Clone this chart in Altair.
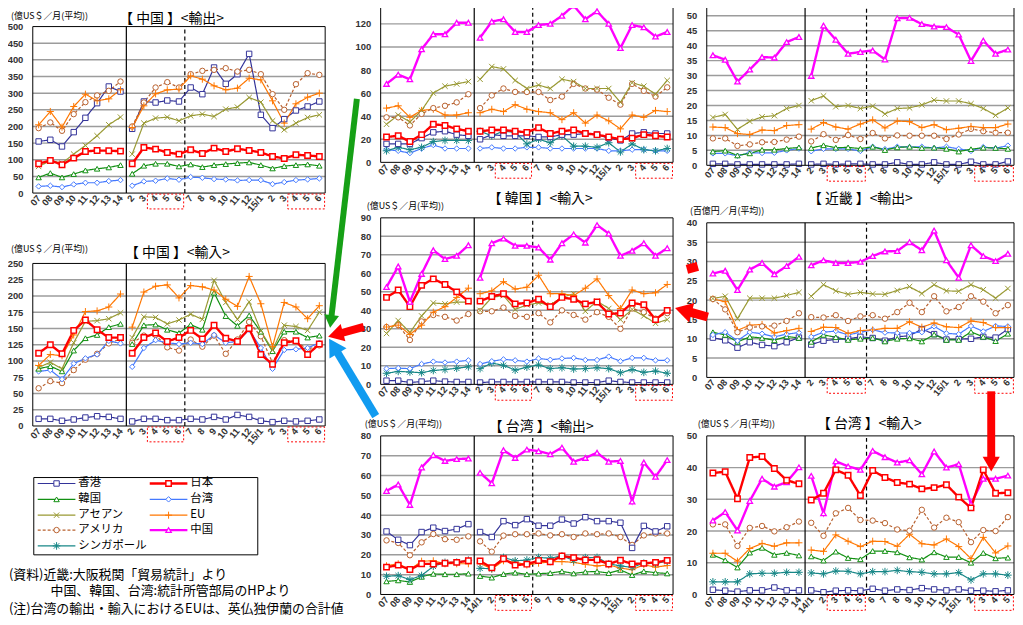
import math
import pandas as pd
import altair as alt

JP = "Noto Sans CJK JP"
NUM = "Liberation Sans"

SERIES = ["香港", "日本", "韓国", "台湾", "アセアン", "EU", "アメリカ", "中国", "シンガポール"]
COLORS = ["#333399", "#ff0000", "#129012", "#4479ff", "#999933", "#ff7700", "#b8602e", "#ff00ff", "#178787"]
SHAPES = ["square", "square", "triangle-up", "diamond",
          "M-1,-1L1,1M-1,1L1,-1",
          "M-1.3,0L1.3,0M0,-1.3L0,1.3",
          "circle", "triangle-up",
          "M-1,-1L1,1M-1,1L1,-1M0,-1.4L0,1.4M-1.4,0L1.4,0"]
DASHES = [[1, 0], [1, 0], [1, 0], [1, 0], [1, 0], [1, 0], [3, 2], [1, 0], [1, 0]]
LINE_W = {"日本": 2.4, "中国": 2.4}
PT_W = {"日本": 1.5, "中国": 1.3}

LABELS_A = ["07", "08", "09", "10", "11", "12", "13", "14", "2", "3", "4", "5", "6",
            "7", "8", "9", "10", "11", "12", "15/1", "2", "3", "4", "5", "6"]
LABELS_B = ["07", "08", "09", "10", "11", "12", "13", "14", "14/1", "2", "3", "4", "5",
            "6", "7", "8", "9", "10", "11", "12", "15/1", "2", "3", "4", "5"]

# 中国 輸出 (億US$/月)
cn_exp = {
    "香港": [155, 160, 140, 183, 226, 270, 320, 305, 193, 275, 272, 278, 275, 317, 297, 377, 328, 357, 418, 235, 195, 222, 248, 260, 275],
    "アメリカ": [195, 212, 187, 237, 273, 293, 307, 335, 200, 272, 317, 333, 317, 357, 367, 370, 375, 365, 370, 357, 297, 250, 327, 360, 355],
    "EU": [205, 245, 198, 260, 297, 277, 283, 310, 197, 262, 298, 310, 312, 352, 342, 322, 310, 315, 345, 340, 277, 210, 268, 288, 300],
    "アセアン": [80, 97, 90, 117, 143, 172, 205, 228, 117, 210, 225, 228, 217, 232, 237, 230, 252, 258, 287, 273, 217, 190, 210, 227, 235],
    "韓国": [47, 60, 47, 57, 68, 73, 77, 84, 58, 82, 88, 88, 80, 86, 78, 84, 87, 90, 92, 84, 74, 81, 84, 86, 82],
    "台湾": [20, 22, 18, 26, 31, 31, 36, 39, 22, 35, 37, 44, 40, 48, 46, 42, 41, 38, 39, 39, 27, 33, 39, 41, 44],
    "日本": [88, 98, 85, 105, 125, 128, 127, 126, 88, 137, 132, 122, 117, 130, 119, 135, 125, 133, 128, 122, 110, 104, 115, 113, 110],
}
# 中国 輸入
cn_imp = {
    "香港": [11, 11, 8, 10, 13, 15, 14, 11, 7, 11, 11, 9, 9, 11, 10, 14, 10, 17, 14, 8, 6, 8, 7, 8, 10],
    "アメリカ": [58, 69, 66, 86, 102, 111, 127, 134, 128, 139, 140, 121, 116, 133, 122, 139, 111, 133, 160, 138, 97, 132, 130, 118, 124],
    "台湾": [84, 86, 72, 96, 104, 110, 131, 127, 91, 120, 132, 128, 126, 128, 126, 140, 128, 130, 148, 120, 88, 117, 118, 120, 128],
    "韓国": [88, 92, 84, 116, 135, 140, 152, 157, 126, 155, 156, 148, 143, 156, 148, 205, 169, 154, 170, 145, 115, 145, 145, 136, 139],
    "アセアン": [90, 98, 88, 128, 161, 162, 165, 174, 136, 168, 167, 157, 163, 172, 164, 224, 190, 164, 191, 146, 117, 155, 153, 147, 175],
    "EU": [93, 110, 108, 140, 176, 177, 183, 203, 152, 206, 215, 217, 197, 216, 214, 209, 195, 184, 230, 188, 122, 190, 183, 165, 185],
    "日本": [112, 125, 111, 147, 163, 148, 136, 136, 112, 136, 143, 130, 136, 147, 134, 155, 135, 130, 150, 110, 95, 128, 131, 110, 126],
}
# 韓国 輸出
kr_exp = {
    "台湾": [11, 10, 8, 12, 15, 12, 12, 12, 12, 13, 12, 12, 13, 13, 12, 12, 12, 12, 12, 10, 10, 11, 11, 10, 10],
    "シンガポール": [10, 13, 11, 13, 18, 19, 19, 19, 27, 23, 27, 26, 16, 20, 17, 23, 14, 14, 13, 17, 9, 16, 11, 10, 12],
    "香港": [16, 16, 16, 21, 26, 27, 24, 23, 20, 24, 23, 23, 23, 22, 22, 24, 24, 25, 24, 21, 19, 25, 26, 25, 25],
    "EU": [47, 49, 39, 45, 46, 41, 41, 43, 43, 46, 44, 50, 46, 44, 43, 37, 43, 34, 41, 36, 29, 41, 39, 45, 44],
    "アメリカ": [39, 39, 32, 42, 47, 49, 52, 59, 47, 58, 64, 61, 61, 61, 54, 57, 68, 64, 63, 56, 50, 68, 62, 57, 65],
    "アセアン": [33, 41, 35, 45, 60, 66, 68, 70, 72, 83, 81, 71, 64, 67, 64, 72, 70, 64, 64, 64, 52, 69, 66, 59, 71],
    "日本": [22, 23, 18, 24, 33, 32, 29, 27, 27, 28, 28, 27, 26, 30, 25, 27, 28, 25, 24, 22, 20, 21, 24, 23, 22],
    "中国": [68, 76, 72, 98, 111, 111, 121, 121, 108, 122, 124, 113, 113, 119, 120, 127, 136, 124, 131, 120, 99, 119, 117, 109, 113],
}
# 韓国 輸入
kr_imp = {
    "香港": [2, 2, 1, 1.5, 2, 1.5, 1.3, 1.3, 1, 1.3, 1.3, 1.3, 1.3, 1.3, 1.3, 1.3, 1, 1, 1, 2, 1.3, 1, 1, 1, 1],
    "シンガポール": [6, 7, 6.7, 6.3, 7.5, 8, 8.7, 9.5, 8.5, 11.5, 10.3, 7.7, 9.3, 10.5, 8.5, 9, 8.3, 8.5, 9, 8.5, 6.3, 8, 6.5, 7.2, 6],
    "台湾": [8.5, 8.8, 8.5, 11, 12.3, 11.8, 12.3, 13, 11, 12.5, 13.5, 13, 12.3, 14, 13.3, 14, 14.3, 13.2, 13.2, 15, 12.5, 14.3, 14.3, 13, 13],
    "アメリカ": [31, 32, 24, 34, 37.5, 36.5, 34.5, 38, 39.5, 39.5, 41.5, 37, 36.5, 38.5, 33.5, 40, 37.5, 35, 39, 36.5, 30, 41, 39, 35.5, 38.5],
    "アセアン": [27.5, 34.5, 28, 37, 44, 43.5, 44.5, 44.5, 40, 47, 48, 40.5, 43, 44, 43, 47, 49, 39.5, 45, 41, 35, 40.5, 37, 33, 35],
    "EU": [31, 32, 27, 32, 39, 42, 47, 52, 49, 50.5, 55.5, 51.5, 52.5, 59, 49, 49, 48, 52, 57, 48, 41, 51, 49, 49.5, 54],
    "日本": [47, 51, 42, 53.5, 57, 54, 50, 45, 45, 47.5, 49, 43.5, 44, 46, 42, 47, 46, 43.5, 44.5, 38, 38.5, 44, 43, 35, 40],
    "中国": [52.6, 63.7, 44.6, 59.7, 72.5, 67.7, 69.5, 75.2, 57.6, 76.3, 78.8, 74.9, 74.9, 74, 67.4, 76.3, 81.1, 76.6, 86.1, 81.5, 69.5, 72.2, 76.3, 69.5, 73.6],
}
# 近畿 輸入 (百億円/月)
kk_imp = {
    "香港": [0.5, 0.5, 0.3, 0.3, 0.3, 0.3, 0.3, 0.5, 0.3, 0.5, 0.3, 0.5, 0.5, 0.3, 0.3, 1, 0.3, 0.3, 1, 0.3, 0.3, 1.2, 0.3, 0.3, 1.3],
    "台湾": [4, 4, 3.2, 4.2, 4.1, 4.2, 5, 5.6, 4.7, 5.5, 5.5, 5.5, 4.8, 6.2, 5.4, 6.2, 6.1, 6.2, 5.8, 6.2, 5.5, 4.8, 6.1, 5.7, 6.6],
    "韓国": [4.6, 4.9, 3.3, 4, 5.2, 5.2, 5.6, 6, 5.8, 6.7, 5.9, 6, 5.6, 6.2, 5.1, 6, 6.2, 5.8, 5.9, 5.5, 4.6, 5.4, 5.9, 5.8, 5.5],
    "アメリカ": [9, 9, 6.5, 7, 7.7, 7.8, 8.6, 9.6, 8, 10.4, 8.5, 10.1, 8.8, 10.8, 9, 10, 9.9, 9.9, 9.9, 8.8, 10.3, 12.2, 11.4, 10.9, 10.9],
    "EU": [12.8, 12.6, 10.6, 10.3, 11.8, 11.6, 13.3, 13.6, 12.1, 14.3, 12.8, 12.1, 13.8, 15.2, 12.5, 14.8, 14.6, 12.6, 13.6, 11.9, 12.4, 13, 12.6, 12.6, 13.8],
    "アセアン": [16, 17, 12, 14.7, 16.2, 16.6, 19, 20, 21.6, 23.2, 19.6, 20, 19, 19.8, 17.2, 19, 19.2, 20.2, 21.8, 21.5, 21.5, 20.6, 19, 16.7, 19.2],
    "中国": [36.8, 35.3, 28, 32, 36.2, 36, 41.2, 42.9, 29.9, 46.7, 42, 37.3, 37.9, 38.4, 35.4, 49.2, 49.3, 47.2, 46.4, 46.2, 43.7, 34.9, 41.7, 37.3, 38.7],
}
# 近畿 輸出
kk_exp = {
    "香港": [10.3, 9.6, 7.7, 9.1, 8.4, 8.1, 9.1, 10.3, 8.5, 9.5, 9.8, 10, 10.5, 10.2, 9.5, 10.5, 10.8, 12.5, 11.2, 9.8, 9.9, 10, 10.5, 10.3, 12.5],
    "韓国": [11.7, 11, 9.2, 10.5, 10.2, 9.6, 10.6, 10.2, 9.2, 11, 10.4, 9.7, 10, 10.2, 9.3, 10, 10.1, 9.3, 11.1, 9.7, 9.7, 11.8, 10.5, 9.4, 11.3],
    "台湾": [11, 11.7, 9.5, 11.7, 11.3, 10.5, 11.2, 11.6, 10.5, 11.7, 12, 11, 11.7, 12.3, 11.6, 11.5, 11.5, 11.7, 13.2, 11.4, 11.2, 13.3, 11.9, 13.3, 13.2],
    "EU": [20.3, 19.6, 12.2, 13.5, 13.7, 11.5, 12.1, 12.7, 11.9, 13, 12.9, 11.4, 12.1, 12.3, 12.7, 12.7, 14.4, 13, 14.1, 13.1, 12.9, 14.6, 14.2, 12.9, 12.9],
    "アメリカ": [20.3, 17.6, 11.7, 12.9, 13.2, 13.4, 14.6, 16.6, 15.6, 15.5, 16.1, 14.6, 15.8, 16.1, 15.2, 16.9, 19.3, 16.9, 21, 17.1, 18.2, 21, 19.6, 16.6, 18.7],
    "アセアン": [20.4, 21, 15.2, 20.5, 20.5, 20.5, 21.2, 22, 21, 24, 22.4, 21.5, 22, 21.6, 21.5, 22.5, 23.5, 21.7, 24, 22.4, 22.3, 24, 22.7, 20.5, 23],
    "中国": [26.9, 27.6, 22.6, 27.9, 29.6, 26.7, 28.8, 31.2, 29, 30.3, 29.6, 29.6, 29.9, 31.4, 32.6, 32.7, 35, 32.9, 38, 30.3, 25.8, 34.2, 31.4, 30.1, 32],
}
# 台湾 輸出
tw_exp = {
    "韓国": [6.6, 7.1, 6.3, 8.9, 10.4, 10.2, 10.2, 10.5, 9.3, 8.5, 10.3, 11, 10.2, 10.5, 10.8, 11.7, 10.6, 11.4, 11.6, 10.8, 12.4, 9.8, 11.7, 11, 10.6],
    "EU": [14.5, 15.5, 12.5, 16.8, 17, 15.5, 15.5, 15.5, 15.8, 12.8, 17, 16.3, 14.9, 15.8, 16.5, 16.6, 16.2, 15.2, 14.4, 14.9, 13.3, 12.5, 15, 13.8, 14.6],
    "シンガポール": [9.2, 9.5, 7.5, 9.6, 14.2, 16.2, 16.3, 17.3, 13.2, 13, 18.7, 17, 17.4, 18.7, 18.3, 19.5, 17.2, 18.6, 18.7, 15.5, 14.4, 13.7, 15.8, 15.6, 16.8],
    "アメリカ": [27.3, 26, 19.8, 26.3, 30.5, 27.9, 27.6, 29.3, 26.8, 21.6, 29.7, 30.4, 30.4, 30.8, 29.8, 30.4, 29, 30.8, 30.4, 30.8, 29, 25, 29.8, 30.8, 30.8],
    "香港": [31.8, 27.6, 24.9, 31.5, 33.7, 32, 33, 35.5, 31.5, 29, 37, 35, 38, 34.7, 34.7, 37.8, 35.8, 39, 37, 37, 36.2, 23.5, 34.6, 31.8, 34.4],
    "日本": [13.8, 14.8, 12.6, 15.5, 15.4, 15.8, 16.2, 17, 16.9, 13.5, 18, 14.8, 15.3, 17.1, 16.5, 19.4, 18.6, 17.4, 17.5, 15.4, 17.3, 15.4, 15.7, 16.2, 17.2],
    "中国": [52.2, 55.5, 45.2, 64.1, 70.3, 67.4, 68.3, 68.6, 61.4, 56.1, 72.8, 68.9, 73.1, 72.3, 70.8, 74.1, 67, 68.9, 71.5, 67, 67.4, 46.9, 66.6, 59.4, 67.8],
}
# 台湾 輸入
tw_imp = {
    "香港": [1.5, 1.2, 0.9, 1.3, 1.3, 2.2, 1.3, 1.3, 1.3, 0.7, 1.2, 1.3, 1.2, 1.8, 1.2, 1.6, 1.4, 2, 1.6, 1.3, 1.6, 1.2, 1.2, 1, 1.3],
    "シンガポール": [4, 4, 4, 6.5, 6.7, 6.7, 7, 7, 6.8, 6.5, 7.4, 7.3, 6.5, 7.2, 7.2, 7.6, 7.2, 7, 6.5, 6.5, 6.9, 4.6, 6.5, 6.5, 6.1],
    "韓国": [12.5, 10.8, 8.5, 13.2, 14.7, 12.5, 13.1, 12.3, 12, 10.7, 13.5, 11.5, 11.1, 13.7, 13.7, 13.3, 11.7, 11, 13.3, 11.8, 11.8, 10, 13.1, 11.4, 11.6],
    "EU": [13, 13, 10.5, 14.5, 16.1, 15.2, 16.3, 16.3, 14, 13.6, 18.8, 16.8, 15.1, 16.8, 16.7, 15.2, 19, 16, 15.6, 17.5, 15.1, 11.3, 18, 13.1, 15.3],
    "アメリカ": [22.1, 22.1, 15.3, 21, 21.6, 19.9, 21.2, 23, 22.6, 18.5, 25.6, 27.3, 23.5, 23.3, 22.5, 20.5, 20.1, 26.7, 21.1, 24.2, 22.8, 16.5, 20.3, 20, 24.4],
    "中国": [23.3, 26, 20.2, 29.5, 36.5, 34, 35.4, 40.1, 37.4, 25.6, 42, 40.4, 39.3, 45.3, 43.3, 41.6, 42.3, 37.9, 45.1, 40, 41.1, 28.5, 36.5, 36.5, 37.5],
    "日本": [38.3, 38.7, 30.2, 43.2, 43.5, 39.7, 36, 34.9, 29.8, 31.9, 39.3, 37.6, 31.2, 39.1, 36.9, 35.3, 34.8, 33.3, 33.7, 34.6, 30.7, 27.3, 39.3, 31.9, 32.1],
}

LEGEND_LEFT = ["香港", "韓国", "アセアン", "アメリカ", "シンガポール"]
LEGEND_RIGHT = ["日本", "台湾", "EU", "中国"]
NOTES = ["(資料)近畿:大阪税関「貿易統計」より",
         "中国、韓国、台湾:統計所管部局のHPより",
         "(注)台湾の輸出・輸入におけるEUは、英仏独伊蘭の合計値"]
UNIT_USD = "(億US＄／月(平均))"
UNIT_JPY = "(百億円／月(平均))"

COLOR = alt.Color("series:N", scale=alt.Scale(domain=SERIES, range=COLORS), legend=None)
DASH = alt.StrokeDash("series:N", scale=alt.Scale(domain=SERIES, range=DASHES), legend=None)
SHAPE = alt.Shape("series:N", scale=alt.Scale(domain=SERIES, range=SHAPES), legend=None)


def one():
    return pd.DataFrame({"k": [0]})


def label(t, x, y, size, align="left", color="black"):
    return alt.Chart(pd.DataFrame({"t": [t]})).mark_text(
        font=JP, fontSize=size, align=align, baseline="middle", color=color
    ).encode(text="t:N", x=alt.value(x), y=alt.value(y))


def arrow(x0, y0, x1, y1, color, w, s):
    dx, dy = x1 - x0, y1 - y0
    L = math.hypot(dx, dy)
    ux, uy = dx / L, dy / L
    h = 0.433 * math.sqrt(s)
    cx, cy = x1 - h * ux, y1 - h * uy
    ex, ey = x1 - 1.7 * h * ux, y1 - 1.7 * h * uy
    ang = math.degrees(math.atan2(ux, -uy)) % 360
    shaft = alt.Chart(one()).mark_rule(color=color, strokeWidth=w, strokeCap="butt").encode(
        x=alt.value(x0), y=alt.value(y0), x2=alt.value(ex), y2=alt.value(ey))
    head = alt.Chart(one()).mark_point(shape="triangle-up", filled=True, color=color, size=s,
                                       opacity=1, angle=ang, strokeWidth=0).encode(
        x=alt.value(cx), y=alt.value(cy))
    return [shaft, head]


def panel(data, ymax, step, labels, vw, pw, vh, top, title=None, unit=None,
          title_xy=(0, 0), unit_xy=(0, 0), extras=()):
    ph = vh - top
    xs = alt.Scale(domain=[-0.5, -0.5 + 25.0 * vw / pw], nice=False, zero=False)
    ys = alt.Scale(domain=[0, ymax * vh / ph], nice=False, zero=False)
    ticks = list(range(0, ymax + 1, step))
    rows = []
    for s, vals in data.items():
        for i, v in enumerate(vals):
            rows.append({"idx": i, "value": v, "series": s, "seg": "a" if i < 8 else "m",
                         "lw": LINE_W.get(s, 1.2), "pw": PT_W.get(s, 1.0)})
    df = pd.DataFrame(rows)
    lab_expr = "[" + ",".join("'%s'" % l for l in labels) + "][datum.value]"
    xaxis = alt.Axis(values=list(range(25)), labelExpr=lab_expr, labelAngle=-50,
                     labelAlign="right", labelBaseline="middle", labelPadding=3,
                     labelFlush=False, labelOverlap=False, ticks=False, domain=False,
                     grid=False, title=None, labelFont=NUM, labelFontSize=9.5,
                     labelFontWeight="bold", labelColor="#333333")
    yaxis = alt.Axis(values=ticks, ticks=False, domain=False, grid=False, title=None,
                     labelPadding=10, labelFont=NUM, labelFontSize=9.5, labelFontWeight="bold",
                     labelColor="#333333", labelFlush=False, labelOverlap=False)

    def X(f):
        return alt.X(f, scale=xs, axis=xaxis)

    def Y(f):
        return alt.Y(f, scale=ys, axis=yaxis)

    grid = alt.Chart(pd.DataFrame({"g": ticks[1:-1], "x0": -0.5, "x1": 24.5})).mark_rule(
        color="#9c9c9c", strokeWidth=1.5).encode(x=X("x0:Q"), x2="x1:Q", y=Y("g:Q"))
    sep = alt.Chart(pd.DataFrame({"sx": [7.5], "y0": [0], "y1": [ymax]})).mark_rule(
        color="black", strokeWidth=1.2).encode(x=X("sx:Q"), y=Y("y0:Q"), y2="y1:Q")
    dsep = alt.Chart(pd.DataFrame({"sx": [12.5], "y0": [0], "y1": [ymax]})).mark_rule(
        color="black", strokeWidth=1.2, strokeDash=[4, 3]).encode(x=X("sx:Q"), y=Y("y0:Q"), y2="y1:Q")
    lines = alt.Chart(df).mark_line().encode(
        x=X("idx:Q"), y=Y("value:Q"),
        color=COLOR, strokeDash=DASH,
        strokeWidth=alt.StrokeWidth("lw:Q", scale=None),
        detail="seg:N")
    points = alt.Chart(df).mark_point(filled=False, fill="white", fillOpacity=1, size=30, opacity=1).encode(
        x=X("idx:Q"), y=Y("value:Q"),
        color=COLOR, shape=SHAPE,
        strokeWidth=alt.StrokeWidth("pw:Q", scale=None))
    border = alt.Chart(pd.DataFrame({"x0": [-0.5], "x1": [24.5], "y0": [0], "y1": [ymax]})).mark_rect(
        fillOpacity=0, stroke="black", strokeWidth=1).encode(
        x=X("x0:Q"), x2="x1:Q", y=Y("y0:Q"), y2="y1:Q")
    boxes = alt.Chart(pd.DataFrame({"b0": [9.3, 21.3], "b1": [12.4, 24.45]})).mark_rect(
        fillOpacity=0, stroke="#ff0000", strokeDash=[2, 2], strokeWidth=1).encode(
        x=X("b0:Q"), x2="b1:Q", y=alt.value(vh + 1), y2=alt.value(vh + 16))
    layers = [grid, sep, dsep, lines, points, border, boxes]
    if title:
        layers.append(label(title, title_xy[0], title_xy[1], 14, align="center"))
    if unit:
        layers.append(label(unit, unit_xy[0], unit_xy[1], 9))
    layers.extend(extras)
    return alt.layer(*layers).properties(width=vw, height=vh)


def legend_panel(vw, vh):
    rows = []
    row_y = [48, 64, 80, 95, 111]
    for col, names in enumerate([LEGEND_LEFT, LEGEND_RIGHT]):
        base = 5 + col * 113
        for r, s in enumerate(names):
            rows.append({"series": s, "lx0": base, "lx1": base + 38, "mx": base + 19,
                         "tx": base + 41, "ly": row_y[r],
                         "lw": LINE_W.get(s, 1.2), "pw": PT_W.get(s, 1.0)})
    df = pd.DataFrame(rows)
    box = alt.Chart(one()).mark_rect(fill="white", stroke="black", strokeWidth=1).encode(
        x=alt.value(1), x2=alt.value(227), y=alt.value(42), y2=alt.value(120))
    lines = alt.Chart(df).mark_rule().encode(
        x=alt.X("lx0:Q", scale=None, axis=None), x2="lx1:Q",
        y=alt.Y("ly:Q", scale=None, axis=None),
        color=COLOR, strokeDash=DASH, strokeWidth=alt.StrokeWidth("lw:Q", scale=None))
    pts = alt.Chart(df).mark_point(filled=False, fill="white", fillOpacity=1, size=30, opacity=1).encode(
        x=alt.X("mx:Q", scale=None, axis=None), y=alt.Y("ly:Q", scale=None, axis=None),
        color=COLOR, shape=SHAPE, strokeWidth=alt.StrokeWidth("pw:Q", scale=None))
    txt = alt.Chart(df).mark_text(font=JP, fontSize=11.5, align="left", baseline="middle",
                                  color="black").encode(
        x=alt.X("tx:Q", scale=None, axis=None), y=alt.Y("ly:Q", scale=None, axis=None),
        text="series:N")
    notes = [label(NOTES[0], -24, 140, 13), label(NOTES[1], 18, 157, 13),
             label(NOTES[2], -24, 175, 13)]
    return alt.layer(box, lines, pts, txt, *notes).properties(width=vw, height=vh)


p_cn_exp = panel(cn_exp, 500, 50, LABELS_A, 317, 295, 194, 26, "【 中国 】<輸出>", UNIT_USD,
                 (140, 18), (-22, 15))
p_kr_exp = panel(kr_exp, 140, 20, LABELS_A, 295, 295, 163, 0)
p_kk_imp = panel(kk_imp, 55, 5, LABELS_A, 310, 310, 166, 0)
p_cn_imp = panel(cn_imp, 250, 25, LABELS_A, 317, 295, 225, 61, "【 中国 】<輸入>", UNIT_USD,
                 (146, 50), (-22, 46))
kr_arrows = (arrow(-24, -105, -51, 126, "#16a016", 6, 225)
             + arrow(-17, 125, -53, 135, "#ff0000", 8, 324)
             + arrow(-5, 215, -52, 137, "#119bf0", 8, 400))
p_kr_imp = panel(kr_imp, 90, 10, LABELS_A, 295, 295, 183, 15, "【 韓国 】<輸入>", UNIT_USD,
                 (161, -4), (-14, 3), extras=kr_arrows)
kk_arrows = (arrow(1, 115, -32, 106, "#ff0000", 9, 400)
             + [alt.Chart(one()).mark_rule(color="#ff0000", strokeWidth=9, strokeCap="butt").encode(
                 x=alt.value(-20), y=alt.value(67), x2=alt.value(-9), y2=alt.value(64))])
p_kk_exp = panel(kk_exp, 40, 5, LABELS_A, 310, 310, 176, 20, "【 近畿 】<輸出>", UNIT_JPY,
                 (155, -4), (-17, 8), extras=kk_arrows)
p_legend = legend_panel(317, 160)
p_tw_exp = panel(tw_exp, 80, 10, LABELS_B, 295, 295, 160, 0, "【 台湾 】<輸出>", UNIT_USD,
                 (162, -9), (-16, -12))
p_tw_imp = panel(tw_imp, 50, 10, LABELS_B, 310, 310, 160, 0, "【 台湾 】<輸入>", UNIT_USD,
                 (164, -12), (-9, -12), extras=arrow(287, -45, 287, 36, "#ff0000", 8, 300))

chart = alt.concat(
    p_cn_exp, p_kr_exp, p_kk_imp,
    p_cn_imp, p_kr_imp, p_kk_exp,
    p_legend, p_tw_exp, p_tw_imp,
    columns=3, spacing={"row": 10, "column": 34}, bounds="flush", align="each",
).properties(
    padding={"left": -1, "top": -15, "right": 0, "bottom": 0},
    background="white",
).configure_view(strokeWidth=0)

chart.save("out.html", embed_options={"renderer": "svg", "actions": False})
